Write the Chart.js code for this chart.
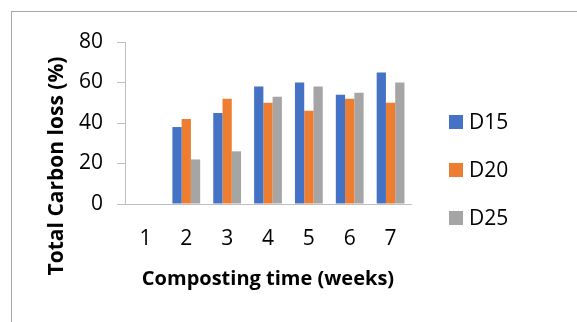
<!DOCTYPE html>
<html>
<head>
<meta charset="utf-8">
<script src="https://cdn.jsdelivr.net/npm/chart.js@4/dist/chart.umd.min.js"></script>
<style>
  html, body { margin: 0; padding: 0; background: #fff; overflow: hidden; }
  body { width: 577px; height: 322px; position: relative; }
  #frame { position: absolute; left: 11px; top: 11px; width: 640px; height: 400px; border: 1px solid #a6a6a6; }
  #wrap { position: absolute; left: 0; top: 0; width: 577px; height: 322px; }
</style>
</head>
<body>
<div id="frame"></div>
<div id="wrap"><canvas id="c" width="577" height="322"></canvas></div>
<script>
// Composting weeks on the x axis
const weeks = ['1', '2', '3', '4', '5', '6', '7'];
// Total carbon loss (%) per treatment
const d15 = [0, 38, 45, 58, 60, 54, 65];
const d20 = [0, 42, 52, 50, 46, 52, 50];
const d25 = [0, 22, 26, 53, 58, 55, 60];
const seriesNames = ['D15', 'D20', 'D25'];
const seriesColors = ['#4472C4', '#ED7D31', '#A5A5A5'];
const yTicks = [0, 20, 40, 60, 80];
const xTitle = 'Composting time (weeks)';
const yTitle = 'Total Carbon loss (%)';

const FONT = "'Open Sans', sans-serif";

// Axis titles and the legend, drawn around the plot area
const decorations = {
  id: 'decorations',
  afterDraw(chart) {
    const ctx = chart.ctx;
    ctx.save();
    ctx.fillStyle = '#000';
    ctx.textAlign = 'center';
    ctx.textBaseline = 'middle';
    ctx.font = 'bold 20px ' + FONT;
    ctx.fillText(xTitle, 268, 279);
    ctx.save();
    ctx.translate(57, 166);
    ctx.rotate(-Math.PI / 2);
    ctx.font = 'bold 21px ' + FONT;
    ctx.fillText(yTitle, 0, 0);
    ctx.restore();

    ctx.font = '21px ' + FONT;
    ctx.textAlign = 'left';
    const rows = [122, 170, 218];
    chart.data.datasets.forEach((ds, i) => {
      const y = rows[i];
      ctx.fillStyle = ds.backgroundColor;
      ctx.fillRect(449, y - 7, 14, 14);
      ctx.fillStyle = '#000';
      ctx.fillText(ds.label, 469, y + 1);
    });
    ctx.restore();
  }
};

const values = [d15, d20, d25];
new Chart(document.getElementById('c'), {
  type: 'bar',
  data: {
    labels: weeks,
    datasets: seriesNames.map((name, i) => ({
      label: name,
      data: values[i],
      backgroundColor: seriesColors[i],
      borderWidth: 0,
      categoryPercentage: 0.68,
      barPercentage: 1.0
    }))
  },
  options: {
    responsive: false,
    animation: false,
    layout: { padding: { left: 0, right: 166, top: 42, bottom: 0 } },
    plugins: { legend: { display: false }, tooltip: { enabled: false } },
    scales: {
      x: {
        grid: { display: false, drawTicks: false },
        border: { display: true, color: '#bfbfbf', width: 1 },
        ticks: { color: '#000', font: { family: FONT, size: 21 }, padding: 22 },
        afterFit(scale) { scale.height = 118; }
      },
      y: {
        min: 0, max: 80,
        afterBuildTicks(scale) { scale.ticks = yTicks.map(v => ({ value: v })); },
        grid: { drawOnChartArea: false, drawTicks: true, tickLength: 8, color: '#bfbfbf' },
        border: { display: true, color: '#bfbfbf', width: 1 },
        ticks: { color: '#000', font: { family: FONT, size: 21 }, padding: 14 },
        afterFit(scale) { scale.width = 125; }
      }
    }
  },
  plugins: [decorations]
});
</script>
</body>
</html>
